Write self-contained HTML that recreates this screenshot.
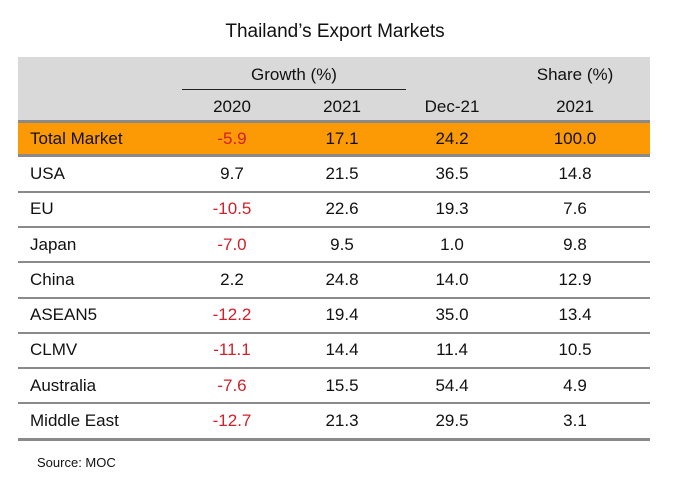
<!DOCTYPE html>
<html><head><meta charset="utf-8"><style>
body{margin:0;width:678px;height:480px;background:#fff;font-family:"Liberation Sans",sans-serif;position:relative;overflow:hidden;color:#111}
.a{position:absolute}
.c{position:absolute;text-align:center;width:100px;font-size:17px}
.l{position:absolute;left:30px;font-size:17px}
.neg{color:#d0202a}
.line{position:absolute;left:18px;width:632px;background:#8a8a8a}
</style></head><body>
<div class="a" style="left:0;width:670px;text-align:center;top:21px;font-size:19px">Thailand’s Export Markets</div>
<div class="a" style="left:18px;top:57px;width:632px;height:64px;background:#d9d9d9"></div>
<div class="a" style="left:182px;width:224px;top:65px;text-align:center;font-size:17px">Growth (%)</div>
<div class="a" style="left:182px;width:224px;top:89px;height:1px;background:#222"></div>
<div class="c" style="left:525px;top:65px">Share (%)</div>
<div class="c" style="left:182px;top:97px">2020</div>
<div class="c" style="left:292px;top:97px">2021</div>
<div class="c" style="left:402px;top:97px">Dec-21</div>
<div class="c" style="left:525px;top:97px">2021</div>
<div class="line" style="top:120px;height:3px"></div>
<div class="a" style="left:18px;top:123px;width:632px;height:31px;background:#fb9a05"></div>
<div id="rows"></div>
<div class="a" style="left:37px;top:455px;font-size:13px">Source: MOC</div>
<script>
const markets=["Total Market","USA","EU","Japan","China","ASEAN5","CLMV","Australia","Middle East"];
const g2020=[-5.9,9.7,-10.5,-7.0,2.2,-12.2,-11.1,-7.6,-12.7];
const g2021=[17.1,21.5,22.6,9.5,24.8,19.4,14.4,15.5,21.3];
const gDec21=[24.2,36.5,19.3,1.0,14.0,35.0,11.4,54.4,29.5];
const share2021=[100.0,14.8,7.6,9.8,12.9,13.4,10.5,4.9,3.1];
const root=document.getElementById('rows');
function rowTop(i){return i===0?129:164+(i-1)*35.25;}
function add(cls,txt,left,top,name){const d=document.createElement('div');d.className=cls;d.textContent=txt;d.style.top=top+'px';if(left!==null)d.style.left=left+'px';


root.appendChild(d);}
markets.forEach((m,i)=>{const t=rowTop(i);const k=m.toLowerCase().replace(/ /g,'-');
add('l',m,null,t,'label-'+k);
add('c'+(g2020[i]<0?' neg':''),g2020[i].toFixed(1),182,t,'growth-2020-'+k);
add('c',g2021[i].toFixed(1),292,t,'growth-2021-'+k);
add('c',gDec21[i].toFixed(1),402,t,'growth-dec21-'+k);
add('c',share2021[i].toFixed(1),525,t,'share-2021-'+k);
const ln=document.createElement('div');ln.className='line';


ln.style.top=(i===0?154:157+i*35.25-1.5)+'px';ln.style.height=(i===0||i===8?3:2)+'px';root.appendChild(ln);});
</script>
</body></html>
